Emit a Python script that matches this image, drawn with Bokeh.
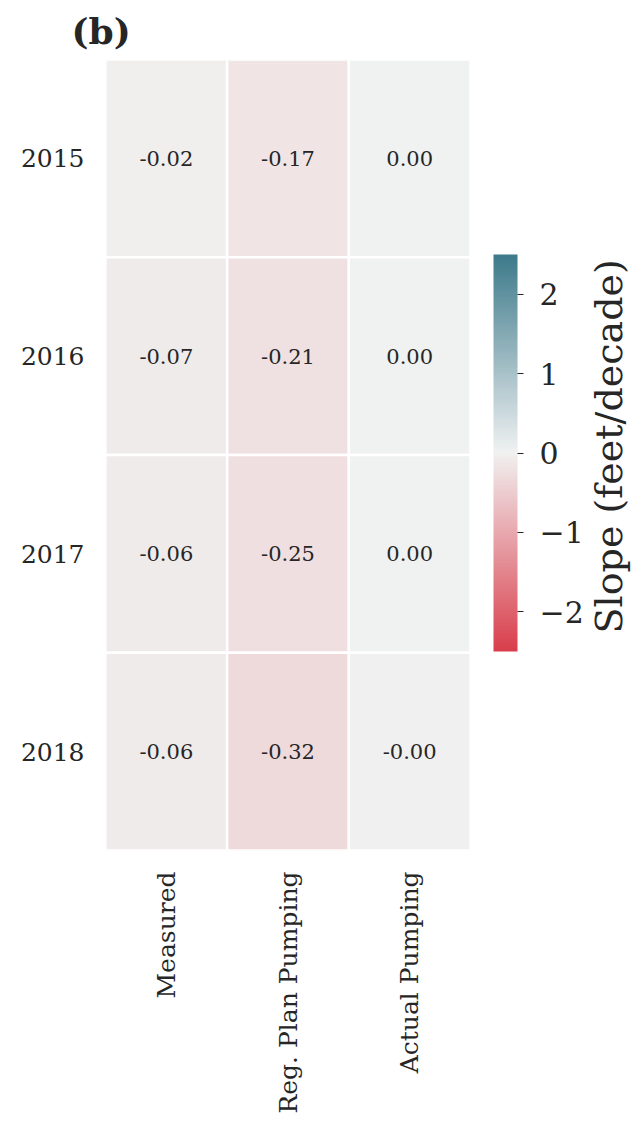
import numpy as np
from bokeh.plotting import figure
from bokeh.layouts import row
from bokeh.models import (ColumnDataSource, LinearColorMapper, ColorBar,
                          FixedTicker, FactorRange, Title)
from bokeh.transform import transform
from bokeh.core.properties import value
from bokeh.embed import file_html
from bokeh.resources import INLINE

# ---- data ----
years = ["2015", "2016", "2017", "2018"]
scenarios = ["Measured", "Reg. Plan Pumping", "Actual Pumping"]
measured = [-0.02, -0.07, -0.06, -0.06]
reg_plan = [-0.17, -0.21, -0.25, -0.32]
actual = [0.00, 0.00, 0.00, -0.001]
cbar_ticks = [-2, -1, 0, 1, 2]
cbar_low, cbar_high = -2.5, 2.5
cbar_title = "Slope (feet/decade)"
panel_title = "(b)"

FONT = "DejaVu Serif"
TXT = "#262626"

# ---- diverging palette (style) ----
def build_palette(anchors, n=256):
    pos = np.array([a[0] for a in anchors])
    cols = np.array([a[1] for a in anchors], dtype=float)
    out = []
    for i in range(n):
        t = i / (n - 1)
        rgb = [np.interp(t, pos, cols[:, k]) for k in range(3)]
        out.append("#%02x%02x%02x" % tuple(int(round(c)) for c in rgb))
    return out

palette = build_palette([
    (0.0, (217, 62, 76)),
    (0.497, (241, 239, 239)),
    (0.5, (242, 242, 242)),
    (0.503, (239, 241, 241)),
    (1.0, (61, 122, 139)),
])

# ---- table ----
xs, ys, vals, labels = [], [], [], []
for col, series in zip(scenarios, [measured, reg_plan, actual]):
    for yr, v in zip(years, series):
        xs.append(col)
        ys.append(yr)
        vals.append(v)
        labels.append(f"{v:.2f}")
src = ColumnDataSource(dict(x=xs, y=ys, v=vals, label=labels))

mapper = LinearColorMapper(palette=palette, low=cbar_low, high=cbar_high)

p = figure(width=584, height=1121,
           x_range=FactorRange(factors=scenarios),
           y_range=FactorRange(factors=years[::-1]),
           output_backend="svg", toolbar_location=None,
           min_border_left=105, min_border_top=57,
           min_border_right=114, min_border_bottom=271)

p.rect(x="x", y="y", width=1, height=1, source=src,
       fill_color=transform("v", mapper), line_color="white", line_width=2.5)
p.text(x="x", y="y", text="label", source=src, text_align="center",
       text_baseline="middle", text_font=value(FONT), text_font_size="21px",
       text_color=TXT)

p.outline_line_color = None
p.grid.grid_line_color = None
p.axis.axis_line_color = None
p.axis.major_tick_line_color = None
p.axis.minor_tick_line_color = None
p.axis.major_label_text_font = FONT
p.axis.major_label_text_color = TXT
p.axis.major_label_text_font_size = "25px"
p.axis.major_label_standoff = 15
p.xaxis.major_label_orientation = np.pi / 2

# title "(b)"
p.title.text = panel_title
p.title.align = "left"
p.title.offset = -34
p.title.text_font = FONT
p.title.text_font_style = "bold"
p.title.text_font_size = "36px"
p.title.text_color = TXT
p.title.standoff = 15

# colour bar
cb = ColorBar(color_mapper=mapper, location=(388, 199), width=24, height=397,
              padding=0, margin=0,
              ticker=FixedTicker(ticks=cbar_ticks),
              major_label_overrides={t: (("\u2212" + str(-t)) if t < 0 else str(t)) for t in cbar_ticks},
              major_label_text_font=FONT, major_label_text_font_size="30px",
              major_label_text_color=TXT,
              major_tick_in=0, major_tick_out=6, major_tick_line_color=TXT,
              minor_tick_line_color=None,
              label_standoff=16, bar_line_color=None,
              border_line_color=None, background_fill_color=None)
p.add_layout(cb)

# narrow strip that carries the colour-bar title, reading bottom-to-top
p2 = figure(width=49, height=1121, x_axis_type=None, y_axis_type=None,
            output_backend="svg", toolbar_location=None,
            min_border_left=0, min_border_right=0,
            min_border_top=57, min_border_bottom=271)
p2.outline_line_color = None
p2.grid.grid_line_color = None
p2.add_layout(Title(text=cbar_title, align="left", standoff=0, offset=217,
                    text_font=FONT, text_font_style="normal",
                    text_font_size="38px", text_color=TXT), "left")

layout = row(p, p2)
open("out.html", "w").write(file_html(layout, INLINE))
